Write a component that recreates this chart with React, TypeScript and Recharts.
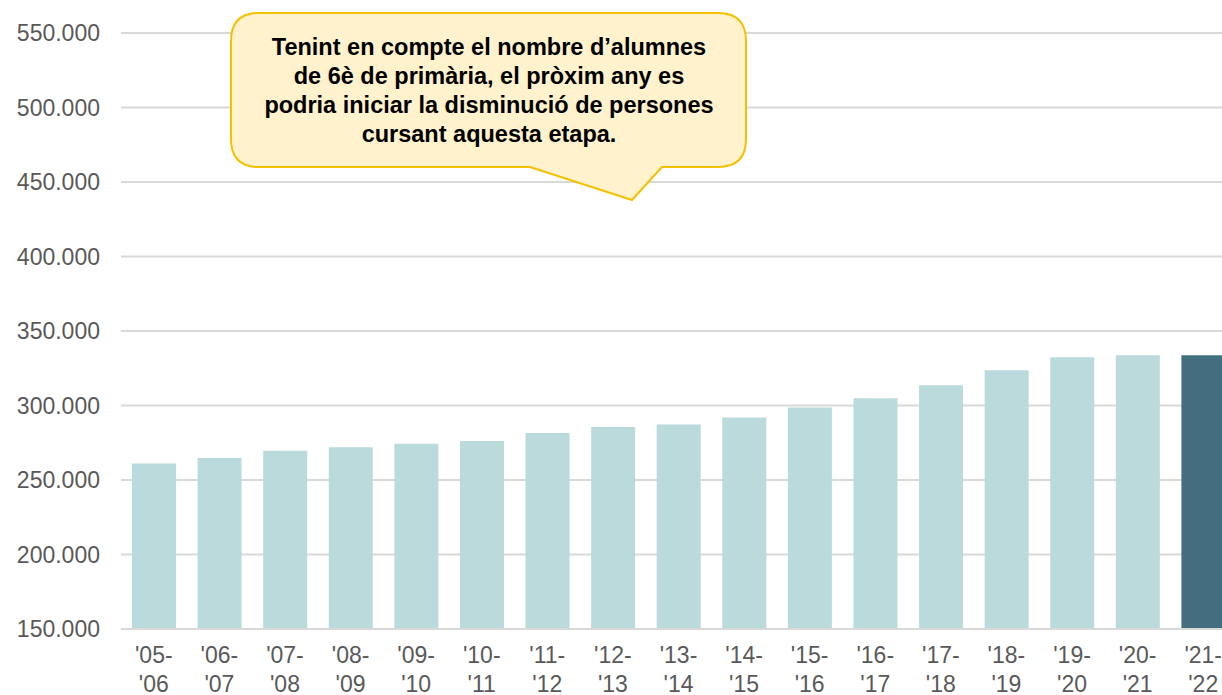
import React from 'react';
import { BarChart, Bar, XAxis, YAxis, CartesianGrid, Cell } from 'recharts';

const categories = ["'05-'06", "'06-'07", "'07-'08", "'08-'09", "'09-'10", "'10-'11", "'11-'12", "'12-'13", "'13-'14", "'14-'15", "'15-'16", "'16-'17", "'17-'18", "'18-'19", "'19-'20", "'20-'21", "'21-'22"];
const students = [261100, 264700, 269600, 271900, 274300, 276100, 281500, 285500, 287300, 292000, 298700, 304900, 313600, 323700, 332400, 333800, 333800];
const yTicks = [150000, 200000, 250000, 300000, 350000, 400000, 450000, 500000, 550000];
const calloutLines = [
  "Tenint en compte el nombre d\u2019alumnes",
  "de 6\u00e8 de prim\u00e0ria, el pr\u00f2xim any es",
  "podria iniciar la disminuci\u00f3 de persones",
  "cursant aquesta etapa.",
];

const data = categories.map((c, i) => ({ cat: c, value: students[i] }));

const LIGHT = '#badadc';
const DARK = '#426e80';
const FONT = '"Liberation Sans", Arial, sans-serif';

const fmt = (v: number) => String(v).replace(/\B(?=(\d{3})+(?!\d))/g, '.');

const XTick = (props: any) => {
  const { x, y, payload } = props;
  const s: string = payload.value;
  const idx = s.indexOf('-');
  const l1 = s.slice(0, idx + 1);
  const l2 = s.slice(idx + 1);
  return (
    <text x={x} y={y} textAnchor="middle" fill="#595959" fontSize={23} fontFamily={FONT}>
      <tspan x={x} dy={26}>{l1}</tspan>
      <tspan x={x} dy={29}>{l2}</tspan>
    </text>
  );
};

export default function App() {
  return (
    <div style={{ position: 'absolute', left: 0, top: 0, width: 1222, height: 695, overflow: 'hidden', background: '#fff' }}>
      <BarChart
        width={1240}
        height={695}
        data={data}
        margin={{ top: 33, right: 4, bottom: 0, left: 0 }}
        barSize={44}
      >
        <CartesianGrid vertical={false} stroke="#d9d9d9" strokeWidth={2} />
        <XAxis
          dataKey="cat"
          height={66}
          tickLine={false}
          axisLine={{ stroke: '#d9d9d9', strokeWidth: 2 }}
          interval={0}
          tick={<XTick />}
        />
        <YAxis
          width={121}
          domain={[150000, 550000]}
          ticks={yTicks}
          tickFormatter={fmt}
          axisLine={false}
          tickLine={false}
          tickSize={0}
          tickMargin={21}
          tick={{ fill: '#595959', fontSize: 23, fontFamily: FONT }}
        />
        <Bar dataKey="value" isAnimationActive={false}>
          {data.map((d, i) => (
            <Cell key={d.cat} fill={i === data.length - 1 ? DARK : LIGHT} />
          ))}
        </Bar>
      </BarChart>
      <svg width={1222} height={695} style={{ position: 'absolute', left: 0, top: 0, pointerEvents: 'none' }}>
        <path
          d="M 259 13 L 718 13 Q 746 13 746 41 L 746 139 Q 746 167 718 167 L 662 167 L 632 200 L 530 167 L 259 167 Q 231 167 231 139 L 231 41 Q 231 13 259 13 Z"
          fill="#fff2cc"
          stroke="#f5c000"
          strokeWidth={2}
          strokeLinejoin="round"
        />
        <text textAnchor="middle" fontFamily={FONT} fontWeight="bold" fontSize={23.5} fill="#000">
          {calloutLines.map((l, i) => (
            <tspan key={i} x={489} y={55 + i * 29}>{l}</tspan>
          ))}
        </text>
      </svg>
    </div>
  );
}
